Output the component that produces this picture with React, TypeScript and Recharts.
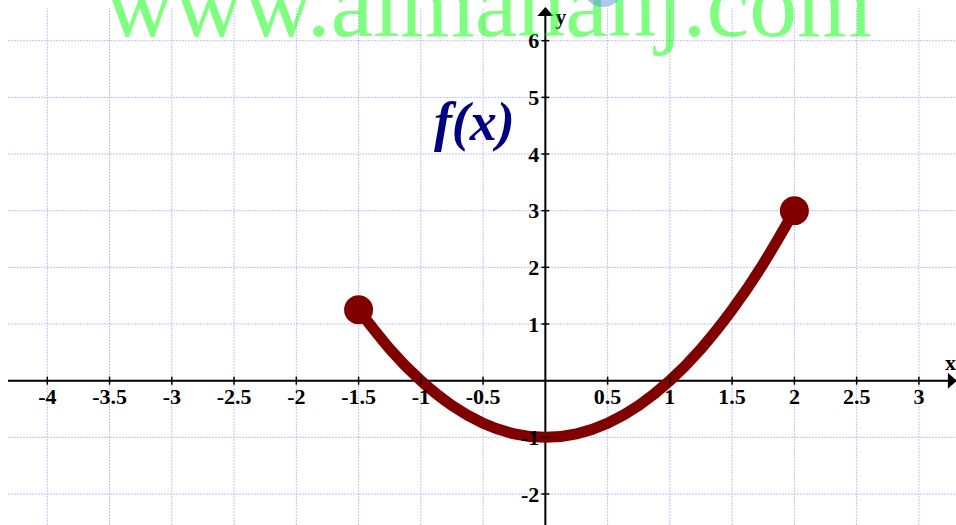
import React from 'react';
import {
  ComposedChart,
  Line,
  Scatter,
  XAxis,
  YAxis,
  ReferenceLine,
  ReferenceDot,
} from 'recharts';

// f(x) sampled along the drawn arc, from x = -1.5 to x = 2
const curveX = [-1.5, -1.25, -1, -0.75, -0.5, -0.25, 0, 0.25, 0.5, 0.75, 1, 1.25, 1.5, 1.75, 2];
const curveY = [1.25, 0.5625, 0, -0.4375, -0.75, -0.9375, -1, -0.9375, -0.75, -0.4375, 0, 0.5625, 1.25, 2.0625, 3];

// closed end points of the arc
const endX = [-1.5, 2];
const endY = [1.25, 3];

// grid / tick positions
const xGrid = [-4, -3.5, -3, -2.5, -2, -1.5, -1, -0.5, 0, 0.5, 1, 1.5, 2, 2.5, 3];
const yGrid = [-2, -1, 0, 1, 2, 3, 4, 5, 6];
const xTickLabels = ['-4', '-3.5', '-3', '-2.5', '-2', '-1.5', '-1', '-0.5', '', '0.5', '1', '1.5', '2', '2.5', '3'];
const yTickLabels = ['-2', '-1', '', '1', '2', '3', '4', '5', '6'];

const curveData = curveX.map((x, i) => ({ x, y: curveY[i] }));
const endData = endX.map((x, i) => ({ x, y: endY[i] }));

const X_MIN = -4.3156;
const X_MAX = 3.298;
const Y_MIN = -2.547;
const Y_MAX = 6.577;

const CURVE = '#800000';
const GRID = '#c0c0f8';
const FONT = '"Liberation Serif", "Times New Roman", serif';

const tickText: React.CSSProperties = {
  fontFamily: FONT,
  fontWeight: 700,
  fontSize: 22,
};

export default function App() {
  return (
    <div style={{ position: 'absolute', left: 0, top: 0, width: 956, height: 525, overflow: 'hidden', background: '#fff' }}>
      <ComposedChart
        width={956}
        height={525}
        data={curveData}
        margin={{ top: 8, left: 8, right: 0, bottom: 0 }}
      >
        <XAxis dataKey="x" type="number" domain={[X_MIN, X_MAX]} allowDataOverflow hide />
        <YAxis dataKey="y" type="number" domain={[Y_MIN, Y_MAX]} allowDataOverflow hide />

        {xGrid.map((v) => (
          <ReferenceLine key={'gx' + v} x={v} stroke={GRID} strokeWidth={1} strokeDasharray="2 1" />
        ))}
        {yGrid.map((v) => (
          <ReferenceLine key={'gy' + v} y={v} stroke={GRID} strokeWidth={1} strokeDasharray="2 1" />
        ))}

        <ReferenceLine y={0} stroke="#000" strokeWidth={2} />
        <ReferenceLine x={0} stroke="#000" strokeWidth={2} />

        {xGrid.map((v, i) =>
          v === 0 ? null : (
            <ReferenceDot
              key={'tx' + v}
              x={v}
              y={0}
              r={0}
              shape={(p: any) => (
                <g>
                  <line x1={p.cx} y1={p.cy - 4} x2={p.cx} y2={p.cy + 4} stroke="#000" strokeWidth={1.5} />
                  <text x={p.cx} y={p.cy + 23} textAnchor="middle" style={tickText} fill="#000">
                    {xTickLabels[i]}
                  </text>
                </g>
              )}
            />
          )
        )}
        {yGrid.map((v, i) =>
          v === 0 ? null : (
            <ReferenceDot
              key={'ty' + v}
              x={0}
              y={v}
              r={0}
              shape={(p: any) => (
                <g>
                  <line x1={p.cx - 4} y1={p.cy} x2={p.cx + 4} y2={p.cy} stroke="#000" strokeWidth={1.5} />
                  <text x={p.cx - 6} y={p.cy + 7.5} textAnchor="end" style={tickText} fill="#000">
                    {yTickLabels[i]}
                  </text>
                </g>
              )}
            />
          )
        )}

        {/* axis arrows and names */}
        <ReferenceDot
          x={0}
          y={Y_MAX - 0.001}
          r={0}
          shape={(p: any) => (
            <g>
              <polygon points={`${p.cx},${p.cy - 1} ${p.cx - 8},${p.cy + 8} ${p.cx + 8},${p.cy + 8}`} fill="#000" />
              <text x={p.cx + 10} y={p.cy + 16} style={tickText} fill="#000">y</text>
            </g>
          )}
        />
        <ReferenceDot
          x={X_MAX - 0.001}
          y={0}
          r={0}
          shape={(p: any) => (
            <g>
              <polygon points={`${p.cx + 1},${p.cy} ${p.cx - 8},${p.cy - 8} ${p.cx - 8},${p.cy + 8}`} fill="#000" />
              <text x={p.cx - 11} y={p.cy - 11} style={tickText} fill="#000">x</text>
            </g>
          )}
        />

        {/* function name */}
        <ReferenceDot
          x={-0.57}
          y={4.25}
          r={0}
          shape={(p: any) => (
            <text
              x={p.cx}
              y={p.cy}
              textAnchor="middle"
              fill="#000080"
              style={{ fontFamily: FONT, fontWeight: 700, fontStyle: 'italic', fontSize: 54 }}
            >
              f(x)
            </text>
          )}
        />

        <Line
          dataKey="y"
          type="natural"
          stroke={CURVE}
          strokeWidth={11}
          strokeLinecap="round"
          dot={false}
          activeDot={false}
          isAnimationActive={false}
        />
        <Scatter
          data={endData}
          dataKey="y"
          fill={CURVE}
          isAnimationActive={false}
          shape={(p: any) => <circle cx={p.cx} cy={p.cy} r={14.5} fill={CURVE} />}
        />
      </ComposedChart>

      <svg
        width={956}
        height={525}
        style={{ position: 'absolute', left: 0, top: 0, pointerEvents: 'none' }}
      >
        <text
          x={105}
          y={36}
          fill="#00ff00"
          fillOpacity={0.5}
          style={{ fontFamily: FONT, fontSize: 96 }}
        >
          www.almanahj.com
        </text>
        <ellipse cx={603} cy={-13} rx={20} ry={20} fill="#5b8fe0" fillOpacity={0.5} />
      </svg>
    </div>
  );
}
